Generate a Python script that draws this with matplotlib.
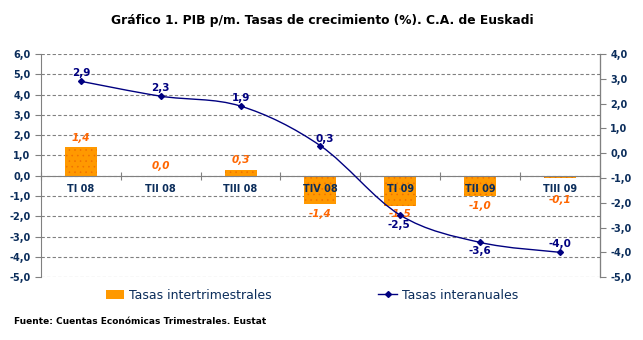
import matplotlib
matplotlib.use('Agg')
import matplotlib.pyplot as plt
import numpy as np
from matplotlib.path import Path
from matplotlib.patches import PathPatch, Patch
from matplotlib.lines import Line2D
from matplotlib.ticker import FixedLocator, FuncFormatter

categorias = ['TI 08', 'TII 08', 'TIII 08', 'TIV 08', 'TI 09', 'TII 09', 'TIII 09']
intertrimestrales = [1.4, 0.0, 0.3, -1.4, -1.5, -1.0, -0.1]
interanuales = [2.9, 2.3, 1.9, 0.3, -2.5, -3.6, -4.0]

NAVY = '#0B2D5B'
LINE = '#000080'
ORANGE = '#FF9900'
LABEL_OR = '#FF6600'
GRIS = '#808080'

plt.rcParams['hatch.linewidth'] = 0.4

def coma(v, pos=None):
    return '{:.1f}'.format(v).replace('.', ',')

fig = plt.figure(figsize=(6.43, 3.40), dpi=100)
ax = fig.add_axes([0.0638, 0.185, 0.869, 0.656])
ax2 = ax.twinx()

x = np.arange(len(categorias))

# barras
ax.bar(x, intertrimestrales, width=0.4, color=ORANGE, edgecolor='#F07000',
       linewidth=0, hatch='...', zorder=2)
bar_offs = [7, 7, 7, -7, -6, -7, -16]
for xi, v, o in zip(x, intertrimestrales, bar_offs):
    ax.annotate(coma(v), (xi, v), xytext=(0, o), textcoords='offset points',
                ha='center', va='center', color=LABEL_OR, fontsize=7.5,
                fontweight='bold', fontstyle='italic', zorder=5)
for xi, c in zip(x, categorias):
    ax.annotate(c, (xi, 0), xytext=(0, -9.5), textcoords='offset points',
                ha='center', va='center', color=NAVY, fontsize=7,
                fontweight='bold', zorder=5)

ax.set_xlim(-0.5, len(categorias) - 0.5)
ax.set_ylim(-5, 6)
ax.yaxis.set_major_locator(FixedLocator(np.arange(-5, 7)))
ax.yaxis.set_major_formatter(FuncFormatter(coma))
ax.grid(axis='y', color=GRIS, linestyle=(0, (3, 2)), linewidth=0.8)
ax.set_axisbelow(True)
ax.spines['bottom'].set_position(('data', 0))
ax.spines['bottom'].set_color(GRIS)
ax.spines['left'].set_color(GRIS)
ax.spines['top'].set_visible(False)
ax.set_xticks(np.arange(len(categorias) + 1) - 0.5)
ax.set_xticklabels([])
ax.tick_params(axis='x', direction='inout', length=6, color=GRIS)
ax.tick_params(axis='y', length=4, color=GRIS, labelcolor=NAVY, labelsize=7)
for t in ax.get_yticklabels():
    t.set_fontweight('bold')

# linea suavizada (curva Bezier)
ax2.set_ylim(-5, 4)
ax2.yaxis.set_major_locator(FixedLocator(np.arange(-5, 5)))
ax2.yaxis.set_major_formatter(FuncFormatter(coma))
ax2.tick_params(axis='y', length=4, color=GRIS, labelcolor=NAVY, labelsize=7)
for t in ax2.get_yticklabels():
    t.set_fontweight('bold')
for s in ['top', 'left', 'bottom']:
    ax2.spines[s].set_visible(False)
ax2.spines['right'].set_color(GRIS)

pts = np.column_stack([x, interanuales]).astype(float)
verts = [tuple(pts[0])]
codes = [Path.MOVETO]
n = len(pts)
for i in range(n - 1):
    p0 = pts[max(i - 1, 0)]
    p1 = pts[i]
    p2 = pts[i + 1]
    p3 = pts[min(i + 2, n - 1)]
    c1 = p1 + (p2 - p0) / 6.0
    c2 = p2 - (p3 - p1) / 6.0
    verts += [tuple(c1), tuple(c2), tuple(p2)]
    codes += [Path.CURVE4] * 3
ax2.add_patch(PathPatch(Path(verts, codes), facecolor='none', edgecolor=LINE,
                        linewidth=1.0, zorder=3))
ax2.plot(x, interanuales, linestyle='none', marker='D', markersize=3,
         color=LINE, zorder=4)
offs = [(0, 6), (0, 6), (0, 6), (3, 5), (-1, -7), (0, -6), (0, 6)]
for xi, v, o in zip(x, interanuales, offs):
    ax2.annotate(coma(v), (xi, v), xytext=o, textcoords='offset points',
                 ha='center', va='center', color=LINE, fontsize=7.5,
                 fontweight='bold', zorder=5)

fig.text(0.501, 0.941, 'Gráfico 1. PIB p/m. Tasas de crecimiento (%). C.A. de Euskadi',
         ha='center', va='center', fontsize=8.8, fontweight='bold', color='black')

handles = [Patch(facecolor=ORANGE, edgecolor='none'),
           Line2D([0], [0], color=LINE, marker='D', markersize=3, linewidth=1.0)]
fig.legend(handles, ['Tasas intertrimestrales', 'Tasas interanuales'],
           loc='center', bbox_to_anchor=(0.485, 0.132), ncol=2, frameon=False,
           fontsize=9, labelcolor=NAVY, columnspacing=8.5, handlelength=1.5,
           handletextpad=0.4)

fig.text(0.022, 0.053, 'Fuente: Cuentas Económicas Trimestrales. Eustat',
         ha='left', va='center', fontsize=6.5, fontweight='bold', color='black')

fig.savefig('out.png', dpi=100)
